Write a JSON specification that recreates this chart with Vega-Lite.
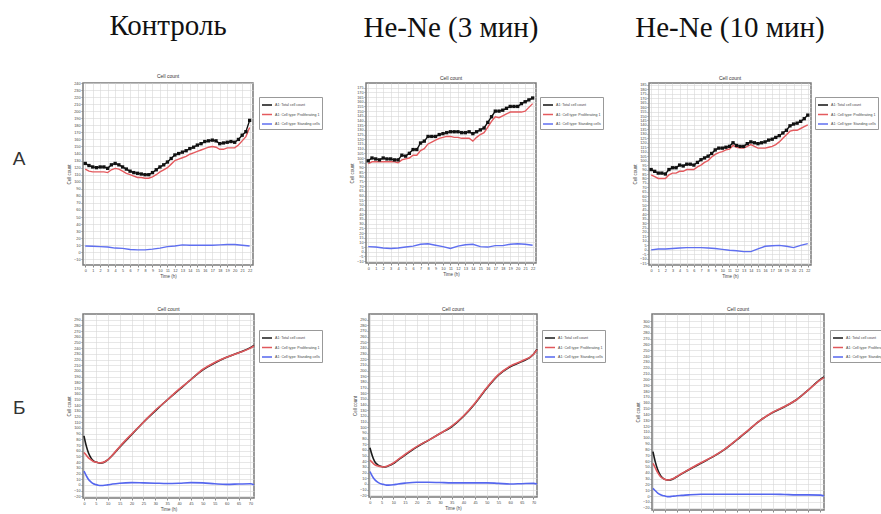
{
  "$schema": "https://vega.github.io/schema/vega-lite/v6.json",
  "padding": {"left": 12, "top": 11, "right": 0, "bottom": 0},
  "autosize": {"type": "pad"},
  "background": "white",
  "spacing": 26,
  "resolve": {"scale": {"color": "independent"}, "legend": {"color": "independent"}},
  "datasets": {
    "a1": [
      {"t":0,"k":126,"r":118,"b":9},{"t":0.5,"k":123,"r":115},{"t":1,"k":121,"r":114,"b":8.5},{"t":1.5,"k":120,"r":114},
      {"t":2,"k":121,"r":114,"b":8},{"t":2.5,"k":121,"r":114},{"t":3,"k":119,"r":113,"b":7.5},{"t":3.5,"k":124,"r":117},
      {"t":4,"k":126,"r":119,"b":6},{"t":4.5,"k":124,"r":118},{"t":5,"k":121,"r":115,"b":5.5},{"t":5.5,"k":118,"r":112},
      {"t":6,"k":115,"r":110,"b":4},{"t":6.5,"k":113,"r":108},{"t":7,"k":112,"r":106,"b":3.5},{"t":7.5,"k":111,"r":106},
      {"t":8,"k":110,"r":105,"b":3.5},{"t":8.5,"k":110,"r":105},{"t":9,"k":113,"r":107,"b":4.5},{"t":9.5,"k":117,"r":110},
      {"t":10,"k":121,"r":114,"b":6},{"t":10.5,"k":124,"r":117},{"t":11,"k":128,"r":120,"b":8},{"t":11.5,"k":133,"r":125},
      {"t":12,"k":138,"r":130,"b":9},{"t":12.5,"k":140,"r":132},{"t":13,"k":142,"r":134,"b":10.5},{"t":13.5,"k":144,"r":136},
      {"t":14,"k":147,"r":139,"b":10},{"t":14.5,"k":149,"r":141},{"t":15,"k":152,"r":143,"b":10},{"t":15.5,"k":154,"r":145},
      {"t":16,"k":157,"r":147,"b":10},{"t":16.5,"k":158,"r":149},{"t":17,"k":159,"r":150,"b":10},{"t":17.5,"k":158,"r":149},
      {"t":18,"k":154,"r":146,"b":10.5},{"t":18.5,"k":155,"r":146},{"t":19,"k":156,"r":148,"b":11},{"t":19.5,"k":157,"r":148},
      {"t":20,"k":156,"r":148,"b":11},{"t":20.5,"k":160,"r":152},{"t":21,"k":166,"r":158,"b":10},{"t":21.5,"k":171,"r":164},
      {"t":22,"k":187,"r":177,"b":9}
    ],
    "a2": [
      {"t":0,"k":97,"r":94,"b":5.5},{"t":0.5,"k":100,"r":96},{"t":1,"k":99,"r":96,"b":5},{"t":1.5,"k":98,"r":96},
      {"t":2,"k":100,"r":96,"b":4},{"t":2.5,"k":99,"r":96},{"t":3,"k":99,"r":96,"b":3.5},{"t":3.5,"k":98,"r":96},
      {"t":4,"k":98,"r":95,"b":4},{"t":4.5,"k":103,"r":98},{"t":5,"k":102,"r":99,"b":5},{"t":5.5,"k":105,"r":100},
      {"t":6,"k":109,"r":103,"b":6},{"t":6.5,"k":109,"r":103},{"t":7,"k":116,"r":108,"b":8},{"t":7.5,"k":118,"r":110},
      {"t":8,"k":123,"r":115,"b":8.5},{"t":8.5,"k":123,"r":117},{"t":9,"k":123,"r":119,"b":7},{"t":9.5,"k":125,"r":121},
      {"t":10,"k":126,"r":122,"b":5.5},{"t":10.5,"k":127,"r":123},{"t":11,"k":128,"r":123,"b":3.5},{"t":11.5,"k":128,"r":122},
      {"t":12,"k":128,"r":122,"b":6},{"t":12.5,"k":127,"r":121},{"t":13,"k":127,"r":121,"b":7.5},{"t":13.5,"k":128,"r":121},
      {"t":14,"k":126,"r":118,"b":8},{"t":14.5,"k":128,"r":122},{"t":15,"k":130,"r":125,"b":5.5},{"t":15.5,"k":132,"r":127},
      {"t":16,"k":138,"r":133,"b":5},{"t":16.5,"k":144,"r":139},{"t":17,"k":150,"r":144,"b":6.5},{"t":17.5,"k":150,"r":143},
      {"t":18,"k":151,"r":145,"b":6.5},{"t":18.5,"k":153,"r":147},{"t":19,"k":155,"r":149,"b":8},{"t":19.5,"k":155,"r":149},
      {"t":20,"k":155,"r":149,"b":8.5},{"t":20.5,"k":158,"r":149},{"t":21,"k":160,"r":150,"b":8},{"t":21.5,"k":162,"r":154},
      {"t":22,"k":164,"r":158,"b":7}
    ],
    "a3": [
      {"t":0,"k":90,"r":84,"b":0},{"t":0.5,"k":88,"r":82},{"t":1,"k":86,"r":80,"b":1},{"t":1.5,"k":86,"r":80},
      {"t":2,"k":85,"r":80,"b":1},{"t":2.5,"k":90,"r":84},{"t":3,"k":92,"r":86,"b":1.5},{"t":3.5,"k":92,"r":86},
      {"t":4,"k":95,"r":88,"b":2},{"t":4.5,"k":94,"r":88},{"t":5,"k":96,"r":90,"b":2.5},{"t":5.5,"k":96,"r":90},
      {"t":6,"k":95,"r":90,"b":2.5},{"t":6.5,"k":98,"r":93},{"t":7,"k":101,"r":95,"b":2.5},{"t":7.5,"k":103,"r":98},
      {"t":8,"k":105,"r":100,"b":2},{"t":8.5,"k":108,"r":104},{"t":9,"k":112,"r":107,"b":1.5},{"t":9.5,"k":114,"r":109},
      {"t":10,"k":114,"r":110,"b":0.5},{"t":10.5,"k":115,"r":112},{"t":11,"k":116,"r":113,"b":-0.5},{"t":11.5,"k":120,"r":117},
      {"t":12,"k":117,"r":115,"b":-1},{"t":12.5,"k":116,"r":114},{"t":13,"k":116,"r":114,"b":-2},{"t":13.5,"k":119,"r":116},
      {"t":14,"k":121,"r":118,"b":-2},{"t":14.5,"k":120,"r":116},{"t":15,"k":119,"r":114,"b":1},{"t":15.5,"k":120,"r":114},
      {"t":16,"k":121,"r":114,"b":4},{"t":16.5,"k":123,"r":115},{"t":17,"k":124,"r":116,"b":4.5},{"t":17.5,"k":126,"r":118},
      {"t":18,"k":128,"r":121,"b":5},{"t":18.5,"k":131,"r":125},{"t":19,"k":134,"r":129,"b":4},{"t":19.5,"k":139,"r":133},
      {"t":20,"k":141,"r":134,"b":2.5},{"t":20.5,"k":142,"r":134},{"t":21,"k":144,"r":136,"b":5},{"t":21.5,"k":147,"r":138},
      {"t":22,"k":151,"r":140,"b":7}
    ],
    "b1": [
      {"t":0,"k":86,"r":57,"b":24},{"t":1,"k":68,"r":52,"b":16},{"t":2,"k":55,"r":47,"b":9},{"t":3,"k":47,"r":44,"b":5},
      {"t":4,"k":42,"r":41,"b":2},{"t":5,"k":40,"r":40,"b":0.5},{"t":6,"k":39,"r":39,"b":-0.5},{"t":7,"k":38.5,"r":39,"b":-1},
      {"t":8,"k":39,"r":39.5,"b":-1},{"t":10,"k":44,"r":44,"b":0},{"t":12,"k":52,"r":52.5,"b":1.5},{"t":15,"k":66,"r":67,"b":3},
      {"t":20,"k":88,"r":89,"b":4},{"t":25,"k":110,"r":110,"b":3.5},{"t":30,"k":130,"r":131,"b":3},{"t":35,"k":149,"r":149,"b":2.5},
      {"t":40,"k":167,"r":168,"b":3},{"t":45,"k":185,"r":185,"b":4},{"t":50,"k":202,"r":203,"b":3.5},{"t":55,"k":214,"r":215,"b":2},
      {"t":60,"k":224,"r":224,"b":1},{"t":65,"k":232,"r":232,"b":1.5},{"t":70,"k":241,"r":240,"b":2},{"t":71.5,"k":245,"r":244,"b":0}
    ],
    "b2": [
      {"t":0,"k":64,"r":42,"b":22},{"t":1,"k":50,"r":38,"b":14},{"t":2,"k":40,"r":34,"b":8},{"t":3,"k":35,"r":32,"b":4},
      {"t":4,"k":32,"r":31,"b":1.5},{"t":5,"k":31,"r":30.5,"b":0},{"t":6,"k":30,"r":30,"b":-1},{"t":7,"k":30.5,"r":31,"b":-2},
      {"t":8,"k":32,"r":32.5,"b":-2},{"t":10,"k":36,"r":37,"b":-1.5},{"t":12,"k":42,"r":43,"b":0},{"t":15,"k":51,"r":52,"b":1.5},
      {"t":20,"k":65,"r":66,"b":3},{"t":25,"k":77,"r":77,"b":3},{"t":30,"k":89,"r":89,"b":2.5},{"t":35,"k":101,"r":102,"b":2},
      {"t":40,"k":119,"r":120,"b":2},{"t":45,"k":142,"r":143,"b":2},{"t":50,"k":169,"r":170,"b":2},{"t":55,"k":192,"r":193,"b":1},
      {"t":60,"k":207,"r":208,"b":0},{"t":65,"k":216,"r":217,"b":0.5},{"t":70,"k":229,"r":229,"b":1},{"t":71.5,"k":238,"r":237,"b":0}
    ],
    "b3": [
      {"t":0,"k":76,"r":56,"b":13},{"t":1,"k":58,"r":48,"b":9},{"t":2,"k":45,"r":40,"b":5},{"t":3,"k":36,"r":34,"b":2.5},
      {"t":4,"k":31,"r":30.5,"b":1},{"t":5,"k":28.5,"r":28.5,"b":0},{"t":6,"k":27.5,"r":27.5,"b":-1},{"t":7,"k":27.5,"r":28,"b":-1},
      {"t":8,"k":28.5,"r":29,"b":-0.5},{"t":10,"k":33,"r":33.5,"b":0.5},{"t":12,"k":38,"r":38.5,"b":1},{"t":15,"k":45,"r":45.5,"b":2},
      {"t":20,"k":56,"r":57,"b":3},{"t":25,"k":67,"r":67.5,"b":3},{"t":30,"k":80,"r":80.5,"b":3},{"t":35,"k":96,"r":96.5,"b":3},
      {"t":40,"k":113,"r":113.5,"b":3},{"t":45,"k":130,"r":130,"b":3},{"t":50,"k":143,"r":143.5,"b":3},{"t":55,"k":153,"r":153.5,"b":2.5},
      {"t":60,"k":165,"r":165,"b":2},{"t":65,"k":182,"r":182,"b":2},{"t":70,"k":200,"r":199,"b":1.5},{"t":71.5,"k":204,"r":203,"b":0}
    ]
  },
  "vconcat": [
    {
      "bounds": "flush",
      "spacing": 113,
      "resolve": {"scale": {"color": "independent"}, "legend": {"color": "independent"}},
      "title": {"text": "А", "orient": "left", "angle": 0, "anchor": "middle", "font": "Liberation Sans", "fontSize": 19, "fontWeight": "normal", "color": "#333333", "offset": 34, "dy": 67},
      "hconcat": [
        {
          "width": 170, "height": 182,
          "data": {"name": "a1"},
          "transform": [{"fold": ["k", "r", "b"], "as": ["s", "v"]}, {"filter": "isValid(datum.v)"}],
          "title": {"text": "Контроль", "subtitle": "Cell count"},
          "encoding": {
            "x": {"field": "t", "type": "quantitative", "scale": {"domain": [-0.3, 22.45], "nice": false}, "axis": {"values": [0,1,2,3,4,5,6,7,8,9,10,11,12,13,14,15,16,17,18,19,20,21,22], "title": "Time (h)"}},
            "y": {"field": "v", "type": "quantitative", "scale": {"domain": [-18, 240], "nice": false, "zero": false}, "axis": {"values": [-10,0,10,20,30,40,50,60,70,80,90,100,110,120,130,140,150,160,170,180,190,200,210,220,230,240], "title": "Cell count"}},
            "color": {"field": "s", "type": "nominal", "scale": {"domain": ["k", "r", "b"], "range": ["#111111", "#e45a5e", "#5f6ff0"]}, "legend": {"orient": "none", "legendX": 176, "legendY": 14, "labelExpr": "datum.label == 'k' ? 'A1: Total cell count' : datum.label == 'r' ? 'A1: Cell type: Proliferating 1' : 'A1: Cell type: Standing cells'"}}
          },
          "layer": [
            {"mark": {"type": "line", "strokeWidth": 1.4}},
            {"transform": [{"filter": "datum.s == 'k'"}], "mark": {"type": "square", "size": 11, "opacity": 1, "filled": true}}
          ]
        },
        {
          "width": 170, "height": 180,
          "data": {"name": "a2"},
          "transform": [{"fold": ["k", "r", "b"], "as": ["s", "v"]}, {"filter": "isValid(datum.v)"}],
          "title": {"text": "He-Ne (3 мин)", "subtitle": "Cell count"},
          "encoding": {
            "x": {"field": "t", "type": "quantitative", "scale": {"domain": [-0.3, 22.45], "nice": false}, "axis": {"values": [0,1,2,3,4,5,6,7,8,9,10,11,12,13,14,15,16,17,18,19,20,21,22], "title": "Time (h)"}},
            "y": {"field": "v", "type": "quantitative", "scale": {"domain": [-12, 180], "nice": false, "zero": false}, "axis": {"values": [-10,-5,0,5,10,15,20,25,30,35,40,45,50,55,60,65,70,75,80,85,90,95,100,105,110,115,120,125,130,135,140,145,150,155,160,165,170,175], "title": "Cell count"}},
            "color": {"field": "s", "type": "nominal", "scale": {"domain": ["k", "r", "b"], "range": ["#111111", "#e45a5e", "#5f6ff0"]}, "legend": {"orient": "none", "legendX": 174, "legendY": 14, "labelExpr": "datum.label == 'k' ? 'A1: Total cell count' : datum.label == 'r' ? 'A1: Cell type: Proliferating 1' : 'A1: Cell type: Standing cells'"}}
          },
          "layer": [
            {"mark": {"type": "line", "strokeWidth": 1.4}},
            {"transform": [{"filter": "datum.s == 'k'"}], "mark": {"type": "square", "size": 11, "opacity": 1, "filled": true}}
          ]
        },
        {
          "width": 162, "height": 182,
          "data": {"name": "a3"},
          "transform": [{"fold": ["k", "r", "b"], "as": ["s", "v"]}, {"filter": "isValid(datum.v)"}],
          "title": {"text": "He-Ne (10 мин)", "subtitle": "Cell count"},
          "encoding": {
            "x": {"field": "t", "type": "quantitative", "scale": {"domain": [-0.3, 22.45], "nice": false}, "axis": {"values": [0,1,2,3,4,5,6,7,8,9,10,11,12,13,14,15,16,17,18,19,20,21,22], "title": "Time (h)"}},
            "y": {"field": "v", "type": "quantitative", "scale": {"domain": [-17, 187], "nice": false, "zero": false}, "axis": {"values": [-15,-10,-5,0,5,10,15,20,25,30,35,40,45,50,55,60,65,70,75,80,85,90,95,100,105,110,115,120,125,130,135,140,145,150,155,160,165,170,175,180,185], "title": "Cell count"}},
            "color": {"field": "s", "type": "nominal", "scale": {"domain": ["k", "r", "b"], "range": ["#111111", "#e45a5e", "#5f6ff0"]}, "legend": {"orient": "none", "legendX": 166, "legendY": 14, "labelExpr": "datum.label == 'k' ? 'A1: Total cell count' : datum.label == 'r' ? 'A1: Cell type: Proliferating 1' : 'A1: Cell type: Standing cells'"}}
          },
          "layer": [
            {"mark": {"type": "line", "strokeWidth": 1.4}},
            {"transform": [{"filter": "datum.s == 'k'"}], "mark": {"type": "square", "size": 11, "opacity": 1, "filled": true}}
          ]
        }
      ]
    },
    {
      "bounds": "flush",
      "spacing": 115,
      "resolve": {"scale": {"color": "independent"}, "legend": {"color": "independent"}},
      "title": {"text": "Б", "orient": "left", "angle": 0, "anchor": "middle", "font": "Liberation Sans", "fontSize": 19, "fontWeight": "normal", "color": "#333333", "offset": 34, "dy": 85},
      "hconcat": [
        {
          "width": 171, "height": 184,
          "data": {"name": "b1"},
          "transform": [{"fold": ["k", "r", "b"], "as": ["s", "v"]}],
          "title": {"text": "Cell count", "font": "Liberation Sans", "fontSize": 5, "color": "#333333"},
          "encoding": {
            "x": {"field": "t", "type": "quantitative", "scale": {"domain": [-0.4, 71.5], "nice": false}, "axis": {"values": [0,5,10,15,20,25,30,35,40,45,50,55,60,65,70], "title": "Time (h)"}},
            "y": {"field": "v", "type": "quantitative", "scale": {"domain": [-23, 300], "nice": false, "zero": false}, "axis": {"values": [-20,-10,0,10,20,30,40,50,60,70,80,90,100,110,120,130,140,150,160,170,180,190,200,210,220,230,240,250,260,270,280,290], "title": "Cell count"}},
            "color": {"field": "s", "type": "nominal", "scale": {"domain": ["k", "r", "b"], "range": ["#1a1a1a", "#e0585c", "#5566ee"]}, "legend": {"orient": "none", "legendX": 176, "legendY": 16, "labelExpr": "datum.label == 'k' ? 'A1: Total cell count' : datum.label == 'r' ? 'A1: Cell type: Proliferating 1' : 'A1: Cell type: Standing cells'"}}
          },
          "mark": {"type": "line", "strokeWidth": 1.6, "interpolate": "monotone"}
        },
        {
          "width": 168, "height": 183,
          "data": {"name": "b2"},
          "transform": [{"fold": ["k", "r", "b"], "as": ["s", "v"]}],
          "title": {"text": "Cell count", "font": "Liberation Sans", "fontSize": 5, "color": "#333333"},
          "encoding": {
            "x": {"field": "t", "type": "quantitative", "scale": {"domain": [-0.4, 71.5], "nice": false}, "axis": {"values": [0,5,10,15,20,25,30,35,40,45,50,55,60,65,70], "title": "Time (h)"}},
            "y": {"field": "v", "type": "quantitative", "scale": {"domain": [-23, 300], "nice": false, "zero": false}, "axis": {"values": [-20,-10,0,10,20,30,40,50,60,70,80,90,100,110,120,130,140,150,160,170,180,190,200,210,220,230,240,250,260,270,280,290], "title": "Cell count"}},
            "color": {"field": "s", "type": "nominal", "scale": {"domain": ["k", "r", "b"], "range": ["#1a1a1a", "#e0585c", "#5566ee"]}, "legend": {"orient": "none", "legendX": 173, "legendY": 16, "labelExpr": "datum.label == 'k' ? 'A1: Total cell count' : datum.label == 'r' ? 'A1: Cell type: Proliferating 1' : 'A1: Cell type: Standing cells'"}}
          },
          "mark": {"type": "line", "strokeWidth": 1.6, "interpolate": "monotone"}
        },
        {
          "width": 172, "height": 196,
          "data": {"name": "b3"},
          "transform": [{"fold": ["k", "r", "b"], "as": ["s", "v"]}],
          "title": {"text": "Cell count", "font": "Liberation Sans", "fontSize": 5, "color": "#333333"},
          "encoding": {
            "x": {"field": "t", "type": "quantitative", "scale": {"domain": [-0.4, 71.5], "nice": false}, "axis": {"values": [0,5,10,15,20,25,30,35,40,45,50,55,60,65,70], "title": "Time (h)"}},
            "y": {"field": "v", "type": "quantitative", "scale": {"domain": [-24, 312], "nice": false, "zero": false}, "axis": {"values": [-20,-10,0,10,20,30,40,50,60,70,80,90,100,110,120,130,140,150,160,170,180,190,200,210,220,230,240,250,260,270,280,290,300], "title": "Cell count"}},
            "color": {"field": "s", "type": "nominal", "scale": {"domain": ["k", "r", "b"], "range": ["#1a1a1a", "#e0585c", "#5566ee"]}, "legend": {"orient": "none", "legendX": 178, "legendY": 16, "labelExpr": "datum.label == 'k' ? 'A1: Total cell count' : datum.label == 'r' ? 'A1: Cell type: Proliferating 1' : 'A1: Cell type: Standing cells'"}}
          },
          "mark": {"type": "line", "strokeWidth": 1.6, "interpolate": "monotone"}
        }
      ]
    }
  ],
  "config": {
    "view": {"stroke": "#7a7a7a", "strokeWidth": 1.5},
    "font": "Liberation Sans",
    "axis": {"labelFontSize": 3.8, "titleFontSize": 4.5, "labelColor": "#444444", "titleColor": "#444444", "titleFontWeight": "normal", "tickColor": "#888888", "tickSize": 2, "domain": false, "gridColor": "#d6d6d6", "gridWidth": 0.6, "labelPadding": 1, "titlePadding": 2, "labelOverlap": false, "labelFlush": false},
    "legend": {"title": null, "symbolType": "stroke", "labelFontSize": 3.6, "labelColor": "#444444", "symbolSize": 100, "symbolStrokeWidth": 1.5, "rowPadding": 0.5, "padding": 2, "strokeColor": "#999999", "fillColor": "white", "labelLimit": 120, "labelOffset": 2, "symbolOffset": 0},
    "title": {"font": "Liberation Serif", "fontSize": 29, "fontWeight": "normal", "color": "#111111", "anchor": "middle", "frame": "group", "offset": 2, "subtitleFont": "Liberation Sans", "subtitleFontSize": 5, "subtitleColor": "#333333", "subtitlePadding": 33}
  }
}
